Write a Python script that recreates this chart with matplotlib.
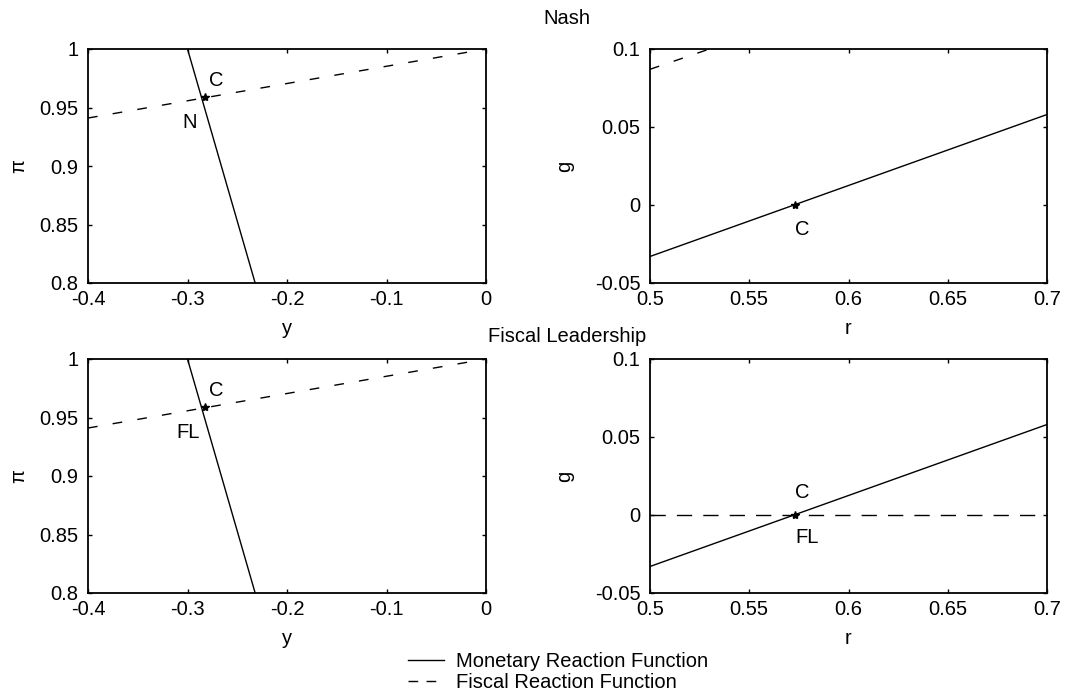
import matplotlib
matplotlib.use("Agg")
import matplotlib.pyplot as plt
from matplotlib.lines import Line2D

plt.rcParams['font.family'] = ['Liberation Sans', 'DejaVu Sans']
FS = 14.5
plt.rcParams['font.size'] = FS

# Data (y, pi) panels
mon_y = [-0.300, -0.232]
mon_pi = [1.0, 0.8]
fis_y = [-0.4, 0.0]
fis_pi = [0.941, 1.0]
eq_left = (-0.2824, 0.959)

# Data (r, g) panels
mon_r = [0.5, 0.7]
mon_g = [-0.033, 0.058]
fis_nash_r = [0.5, 0.53]
fis_nash_g = [0.087, 0.1]
fis_fl_r = [0.5, 0.7]
fis_fl_g = [0.0, 0.0]
eq_right = (0.573, 0.0)

left_xticks = [-0.4, -0.3, -0.2, -0.1, 0]
left_xticklabels = ['-0.4', '-0.3', '-0.2', '-0.1', '0']
left_yticks = [0.8, 0.85, 0.9, 0.95, 1.0]
left_yticklabels = ['0.8', '0.85', '0.9', '0.95', '1']
right_xticks = [0.5, 0.55, 0.6, 0.65, 0.7]
right_xticklabels = ['0.5', '0.55', '0.6', '0.65', '0.7']
right_yticks = [-0.05, 0, 0.05, 0.1]
right_yticklabels = ['-0.05', '0', '0.05', '0.1']

W, H = 1081, 697
fig = plt.figure(figsize=(W / 100, H / 100), dpi=100)

def add_ax(x0, y0, x1, y1):
    return fig.add_axes([x0 / W, 1 - y1 / H, (x1 - x0) / W, (y1 - y0) / H])

def style(ax):
    for s in ax.spines.values():
        s.set_linewidth(1.3)
    ax.tick_params(direction='in', length=3, width=1, top=True, right=True,
                   labelsize=FS)
    ax.tick_params(axis='y', pad=7)
    ax.tick_params(axis='x', pad=5)

axes_pos = [(88, 49, 486, 283), (650, 49, 1047, 283),
            (88, 359, 486, 593), (650, 359, 1047, 593)]

for row, (lbl, fis_r, fis_g) in enumerate([('N', fis_nash_r, fis_nash_g),
                                            ('FL', fis_fl_r, fis_fl_g)]):
    axl = add_ax(*axes_pos[2 * row])
    axl.plot(mon_y, mon_pi, color='black', lw=1.0)
    axl.plot(fis_y, fis_pi, color='black', lw=1.0, dashes=(7, 11))
    axl.plot([eq_left[0]], [eq_left[1]], marker='*', color='black', ms=6)
    axl.set_xlim(-0.4, 0)
    axl.set_ylim(0.8, 1.0)
    axl.set_xticks(left_xticks)
    axl.set_xticklabels(left_xticklabels)
    axl.set_yticks(left_yticks)
    axl.set_yticklabels(left_yticklabels)
    axl.set_xlabel('y', labelpad=7)
    axl.set_ylabel('π', labelpad=8)
    axl.text(-0.2715, 0.9735, 'C', ha='center', va='center')
    axl.text(-0.2975 if row == 0 else -0.2995, 0.9376, lbl,
             ha='center', va='center')
    style(axl)

    axr = add_ax(*axes_pos[2 * row + 1])
    axr.plot(mon_r, mon_g, color='black', lw=1.0)
    if row == 0:
        axr.plot(fis_r, fis_g, color='black', lw=1.0, dashes=(7, 11))
    else:
        axr.plot(fis_r, fis_g, color='black', lw=1.0, dashes=(11, 8))
    axr.plot([eq_right[0]], [eq_right[1]], marker='*', color='black', ms=6)
    axr.set_xlim(0.5, 0.7)
    axr.set_ylim(-0.05, 0.1)
    axr.set_xticks(right_xticks)
    axr.set_xticklabels(right_xticklabels)
    axr.set_yticks(right_yticks)
    axr.set_yticklabels(right_yticklabels)
    axr.set_xlabel('r', labelpad=7)
    axr.set_ylabel('g', labelpad=15)
    if row == 0:
        axr.text(0.5766, -0.0154, 'C', ha='center', va='center')
    else:
        axr.text(0.5766, 0.0147, 'C', ha='center', va='center')
        axr.text(0.579, -0.0147, 'FL', ha='center', va='center')
    style(axr)

fig.text(567 / W, 1 - 18 / H, 'Nash', ha='center', va='center')
fig.text(567 / W, 1 - 337 / H, 'Fiscal Leadership', ha='center', va='center')

handles = [Line2D([], [], color='black', lw=1.0),
           Line2D([], [], color='black', lw=1.0, dashes=(7, 6))]
fig.legend(handles, ['Monetary Reaction Function', 'Fiscal Reaction Function'],
           loc='center', bbox_to_anchor=(558 / W, 1 - 672 / H), frameon=False,
           fontsize=FS, handlelength=1.75, handletextpad=0.6,
           labelspacing=0.12, borderpad=0)

fig.savefig('out.png', dpi=100, facecolor='white')
